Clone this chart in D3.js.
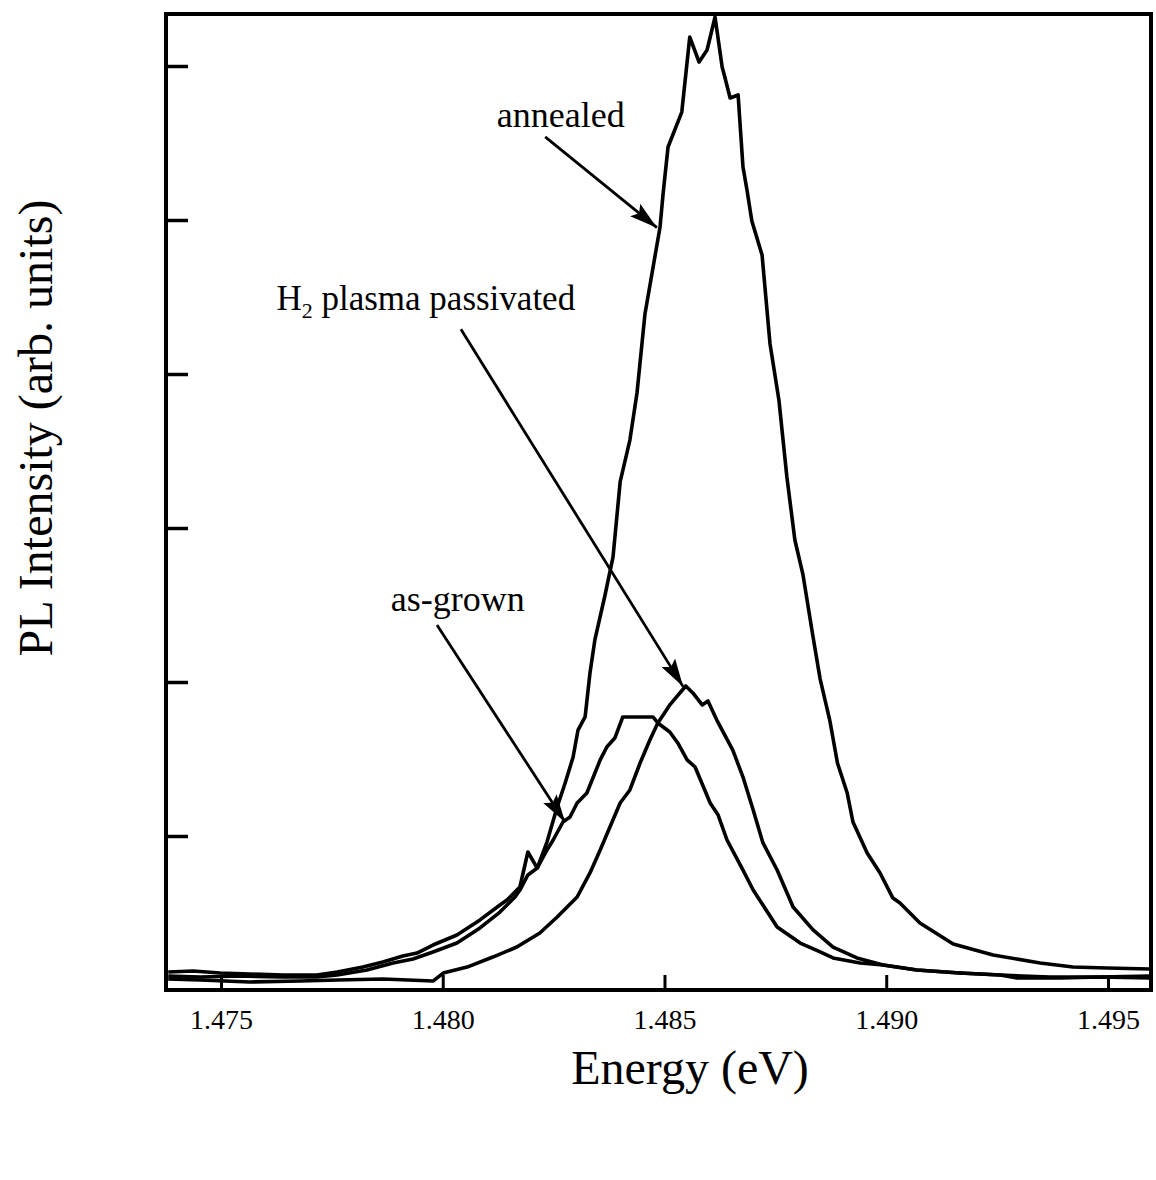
<!DOCTYPE html>
<html>
<head>
<meta charset="utf-8">
<script src="https://cdn.jsdelivr.net/npm/d3@7"></script>
<style>
  html, body { margin: 0; padding: 0; background: #fff; }
  svg text { font-family: "Liberation Serif", "Times New Roman", serif; fill: #000; }
</style>
</head>
<body>
<svg id="chart" width="1156" height="1180"></svg>
<script>
// Photoluminescence spectra (energy in eV, intensity in arbitrary units)
const annealedEnergy = [1.47381,1.47437,1.47498,1.47565,1.47640,1.47716,1.47762,1.47820,1.47865,1.47910,1.47942,1.47978,1.48032,1.48084,1.48129,1.48145,1.48174,1.48192,1.48213,1.48235,1.48258,1.48276,1.48294,1.48305,1.48321,1.48332,1.48343,1.48366,1.48384,1.48400,1.48422,1.48438,1.48456,1.48490,1.48497,1.48508,1.48539,1.48557,1.48578,1.48596,1.48614,1.48630,1.48636,1.48648,1.48666,1.48677,1.48686,1.48697,1.48720,1.48738,1.48758,1.48776,1.48794,1.48812,1.48835,1.48851,1.48873,1.48890,1.48912,1.48925,1.48957,1.48986,1.49015,1.49031,1.49076,1.49151,1.49241,1.49347,1.49421,1.49498,1.49595];
const annealedIntensity = [0.117,0.123,0.110,0.104,0.097,0.097,0.117,0.149,0.182,0.221,0.240,0.292,0.357,0.455,0.552,0.584,0.669,0.896,0.792,0.961,1.188,1.344,1.513,1.688,1.773,2.058,2.273,2.565,2.812,3.299,3.571,3.877,4.390,4.955,5.175,5.474,5.701,6.188,6.026,6.104,6.318,5.994,5.929,5.792,5.812,5.344,5.195,4.994,4.773,4.195,3.831,3.331,2.922,2.701,2.292,2.019,1.747,1.474,1.279,1.091,0.890,0.760,0.597,0.565,0.435,0.299,0.227,0.175,0.149,0.143,0.136];

const asGrownEnergy = [1.47381,1.47453,1.47543,1.47640,1.47716,1.47762,1.47829,1.47888,1.47933,1.47978,1.48032,1.48084,1.48129,1.48163,1.48174,1.48192,1.48213,1.48235,1.48249,1.48271,1.48287,1.48303,1.48325,1.48355,1.48370,1.48388,1.48406,1.48474,1.48485,1.48512,1.48530,1.48551,1.48569,1.48603,1.48621,1.48641,1.48677,1.48700,1.48754,1.48806,1.48851,1.48880,1.48941,1.48993,1.49069,1.49166,1.49257,1.49369,1.49482,1.49595];
const asGrownIntensity = [0.091,0.084,0.091,0.084,0.084,0.097,0.130,0.175,0.201,0.247,0.305,0.403,0.506,0.604,0.649,0.747,0.792,0.909,0.974,1.091,1.123,1.214,1.279,1.494,1.578,1.636,1.773,1.773,1.734,1.675,1.604,1.494,1.448,1.214,1.136,0.974,0.779,0.649,0.409,0.305,0.247,0.208,0.175,0.162,0.130,0.110,0.097,0.084,0.084,0.091];

const passivatedEnergy = [1.47381,1.47453,1.47565,1.47678,1.47762,1.47865,1.47978,1.48001,1.48055,1.48113,1.48167,1.48219,1.48258,1.48303,1.48332,1.48355,1.48377,1.48400,1.48422,1.48445,1.48467,1.48485,1.48512,1.48548,1.48564,1.48585,1.48598,1.48618,1.48654,1.48677,1.48700,1.48722,1.48754,1.48790,1.48835,1.48880,1.48934,1.48993,1.49069,1.49166,1.49257,1.49295,1.49392,1.49482,1.49595];
const passivatedIntensity = [0.071,0.065,0.052,0.058,0.065,0.071,0.058,0.110,0.149,0.214,0.279,0.370,0.474,0.604,0.760,0.909,1.058,1.214,1.299,1.474,1.623,1.734,1.851,1.974,1.929,1.851,1.877,1.753,1.558,1.383,1.169,0.955,0.779,0.539,0.390,0.279,0.208,0.162,0.130,0.110,0.097,0.078,0.078,0.084,0.078];

// Axis ticks
const xTickValues = [1.475, 1.480, 1.485, 1.490, 1.495];
const xTickLabels = ["1.475", "1.480", "1.485", "1.490", "1.495"];
const yTickValues = [1, 2, 3, 4, 5, 6];

// Curve labels: text anchor and arrow (from -> to), in data coordinates
const labelNames = ["annealed", "H2 plasma passivated", "as-grown"];
const labelAt = [[1.48122, 5.604], [1.47625, 4.416], [1.47883, 2.461]];
const arrowFrom = [[1.48231, 5.54], [1.48041, 4.29], [1.47987, 2.37]];
const arrowTo = [[1.48483, 4.95], [1.48542, 1.97], [1.48276, 1.09]];

const serif = "'Liberation Serif', 'Times New Roman', serif";
const svg = d3.select("#chart");
const margin = { left: 166, right: 1151, top: 14, bottom: 990 };

const x = d3.scaleLinear().domain([1.47376, 1.49597]).range([margin.left, margin.right]);
const y = d3.scaleLinear().domain([0, 6.3377]).range([margin.bottom, margin.top]);

svg.append("defs").append("marker")
  .attr("id", "head")
  .attr("viewBox", "0 0 28 16")
  .attr("refX", 28).attr("refY", 8)
  .attr("markerUnits", "userSpaceOnUse")
  .attr("markerWidth", 28).attr("markerHeight", 16)
  .attr("orient", "auto")
  .append("path").attr("d", "M0,0 L28,8 L0,16 L5,8 Z").attr("fill", "#000");

// Inward ticks
const xAxis = d3.axisBottom(x).tickValues(xTickValues)
  .tickSizeInner(-15).tickSizeOuter(0)
  .tickFormat((d, i) => xTickLabels[i]);
const gx = svg.append("g").attr("transform", `translate(0,${margin.bottom})`).call(xAxis)
  .attr("font-family", serif).attr("font-size", 28);
gx.select(".domain").remove();
gx.selectAll(".tick line").attr("stroke", "#000").attr("stroke-width", 3);
gx.selectAll(".tick text").attr("y", 39).attr("dy", null)
  .attr("font-size", 28).attr("font-family", serif).attr("fill", "#000");

const yAxis = d3.axisLeft(y).tickValues(yTickValues)
  .tickSizeInner(-22).tickSizeOuter(0).tickFormat("");
const gy = svg.append("g").attr("transform", `translate(${margin.left},0)`).call(yAxis);
gy.select(".domain").remove();
gy.selectAll(".tick line").attr("stroke", "#000").attr("stroke-width", 3.5);

// Spectra
const line = d3.line().x(d => x(d[0])).y(d => y(d[1]));
const series = [
  [annealedEnergy, annealedIntensity],
  [asGrownEnergy, asGrownIntensity],
  [passivatedEnergy, passivatedIntensity]
];
svg.append("g").selectAll("path.spectrum").data(series).join("path")
  .attr("class", "spectrum")
  .attr("d", s => line(d3.zip(s[0], s[1])))
  .attr("fill", "none").attr("stroke", "#000")
  .attr("stroke-width", 3.6).attr("stroke-linejoin", "round");

// Plot frame
svg.append("rect")
  .attr("x", margin.left).attr("y", margin.top)
  .attr("width", margin.right - margin.left).attr("height", margin.bottom - margin.top)
  .attr("fill", "none").attr("stroke", "#000").attr("stroke-width", 4);

// Arrows
svg.append("g").selectAll("line").data(arrowFrom).join("line")
  .attr("x1", d => x(d[0])).attr("y1", d => y(d[1]))
  .attr("x2", (d, i) => x(arrowTo[i][0])).attr("y2", (d, i) => y(arrowTo[i][1]))
  .attr("stroke", "#000").attr("stroke-width", 2.8)
  .attr("marker-end", "url(#head)");

// Curve labels
const labels = svg.append("g").attr("font-size", 36);
labels.selectAll("text").data(labelNames).join("text")
  .attr("x", (d, i) => x(labelAt[i][0])).attr("y", (d, i) => y(labelAt[i][1]))
  .each(function (d) {
    const t = d3.select(this);
    if (d.startsWith("H2")) {
      t.attr("font-size", 35);
      t.append("tspan").text("H");
      t.append("tspan").attr("font-size", 22).attr("dy", 8).text("2");
      t.append("tspan").attr("dy", -8).text(" plasma passivated");
    } else {
      t.text(d);
    }
  });

// Axis titles
svg.append("text")
  .attr("x", 690).attr("y", 1084)
  .attr("text-anchor", "middle").attr("font-size", 48)
  .text("Energy (eV)");
svg.append("text")
  .attr("transform", "translate(52,428) rotate(-90)")
  .attr("text-anchor", "middle").attr("font-size", 48)
  .text("PL Intensity (arb. units)");
</script>
</body>
</html>
